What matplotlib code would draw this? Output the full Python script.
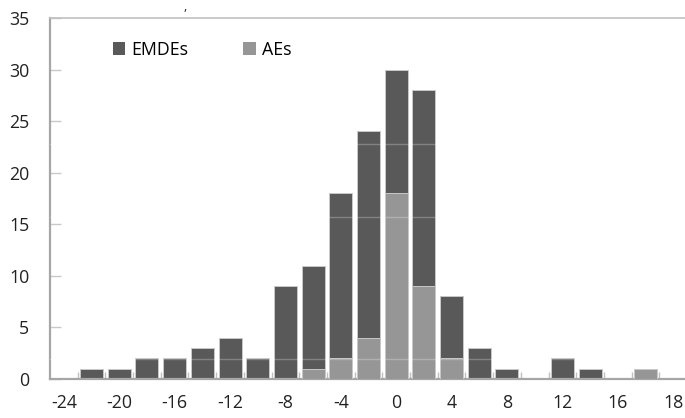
import matplotlib
matplotlib.use('Agg')
import matplotlib.pyplot as plt
from matplotlib.patches import Patch
import numpy as np

# histogram bins (2 units wide), counts per group
bins = [-24, -22, -20, -18, -16, -14, -12, -10, -8, -6, -4, -2,
        0, 2, 4, 6, 8, 10, 12, 14, 16, 18, 20]
emdes = [0, 1, 1, 2, 2, 3, 4, 2, 9, 11, 18, 24,
         30, 28, 8, 3, 1, 0, 2, 1, 0, 0, 0]
aes = [0, 0, 0, 0, 0, 0, 0, 0, 0, 1, 2, 4,
       18, 9, 2, 0, 0, 0, 0, 0, 0, 1, 0]
tick_labels = ['-24', '-20', '-16', '-12', '-8', '-4', '0', '4', '8', '12', '16', '18']

DARK = '#595959'
LIGHT = '#969696'
FS = 12.8


def main():
    plt.rcParams['font.family'] = ['Open Sans', 'DejaVu Sans']
    fig = plt.figure(figsize=(6.85, 4.18), dpi=100)
    ax = fig.add_axes([50 / 685, 1 - 379 / 418, 637 / 685, 361 / 418])

    x = np.arange(len(bins))
    ax.bar(x, emdes, width=0.83, color=DARK, edgecolor='#c8c8c8', linewidth=0.7, zorder=2)
    ax.bar(x, aes, width=0.83, color=LIGHT, edgecolor='#c8c8c8', linewidth=0.7, zorder=3)

    # faint light streaks across the bars, as in the source image
    for yv in (1.95, 15.75, 22.8):
        ax.axhline(yv, color='white', alpha=0.25, linewidth=1, zorder=4)

    ax.set_xlim(-0.5, len(bins) - 0.5)
    ax.set_ylim(0, 35)
    ax.set_yticks(range(0, 36, 5))
    ax.set_xticks(x[::2])
    ax.set_xticklabels(tick_labels)
    ax.set_xticks(x[:-1] + 0.5, minor=True)

    ax.tick_params(axis='x', which='major', length=0, pad=10.5, labelsize=FS, labelcolor='#222222')
    ax.tick_params(axis='x', which='minor', direction='in', length=5, width=1, color='#c0c0c0')
    ax.tick_params(axis='y', direction='in', length=8, width=1, color='#c8c8c8',
                   pad=15, labelsize=FS, labelcolor='#222222')

    for side in ('left', 'bottom'):
        ax.spines[side].set_color('#a6a6a6')
        ax.spines[side].set_linewidth(1.6)
    ax.spines['top'].set_color('#c0c0c0')
    ax.spines['top'].set_linewidth(1.2)
    ax.spines['right'].set_visible(False)

    handles = [Patch(facecolor=DARK, label='EMDEs'), Patch(facecolor=LIGHT, label='AEs')]
    ax.legend(handles=handles, loc='center left', bbox_to_anchor=(0.099, 0.912),
              ncol=2, frameon=False, fontsize=FS, borderpad=0, borderaxespad=0,
              handlelength=0.68, handleheight=0.68, handletextpad=0.35,
              columnspacing=3.1)

    # fragment of the title above the chart
    fig.text(185 / 685, 1.0, ',', fontsize=9, color='#222222', ha='center', va='top')

    fig.savefig('out.png', dpi=100)


if __name__ == '__main__':
    main()
